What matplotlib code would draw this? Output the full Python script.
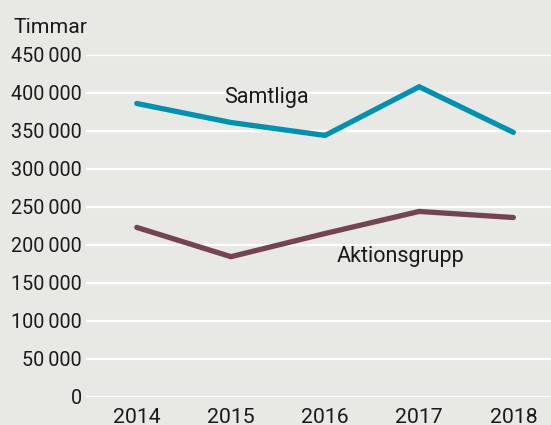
import matplotlib.pyplot as plt
from matplotlib.ticker import FuncFormatter

plt.rcParams['font.family'] = ['Roboto', 'DejaVu Sans']

years = [2014, 2015, 2016, 2017, 2018]
samtliga = [386000, 361000, 344000, 408000, 348000]
aktionsgrupp = [223000, 184500, 215000, 244000, 236000]

bg = '#e8e8e4'
txt = '#1a1a1a'

fig = plt.figure(figsize=(5.51, 4.25), dpi=100, facecolor=bg)
ax = fig.add_axes([0.156, 0.066, 0.844, 0.805], facecolor=bg)

ax.plot(years, samtliga, color='#0091b0', lw=3.8, solid_capstyle='round', solid_joinstyle='miter')
ax.plot(years, aktionsgrupp, color='#744452', lw=3.8, solid_capstyle='round', solid_joinstyle='miter')

ax.text(2014.93, 387000, 'Samtliga', fontsize=15.5, color=txt, va='baseline')
ax.text(2016.12, 177600, 'Aktionsgrupp', fontsize=15.5, color=txt, va='baseline')

ax.set_xlim(2013.46, 2018.4)
ax.set_ylim(0, 450000)
ax.set_xticks(years)
ax.set_yticks(range(0, 450001, 50000))
ax.yaxis.set_major_formatter(FuncFormatter(lambda v, p: f'{int(v):,}'.replace(',', '\u2009')))
ax.grid(axis='y', color='white', lw=1.6)
ax.set_axisbelow(True)
for s in ax.spines.values():
    s.set_visible(False)
ax.tick_params(axis='y', length=0, labelsize=14.2, colors=txt, pad=3)
ax.tick_params(axis='x', length=0, labelsize=15.3, colors=txt, pad=8)

fig.text(14 / 551, 1 - 33 / 425, 'Timmar', fontsize=15.3, color=txt, va='baseline')

fig.savefig('out.png', dpi=100, facecolor=bg)
